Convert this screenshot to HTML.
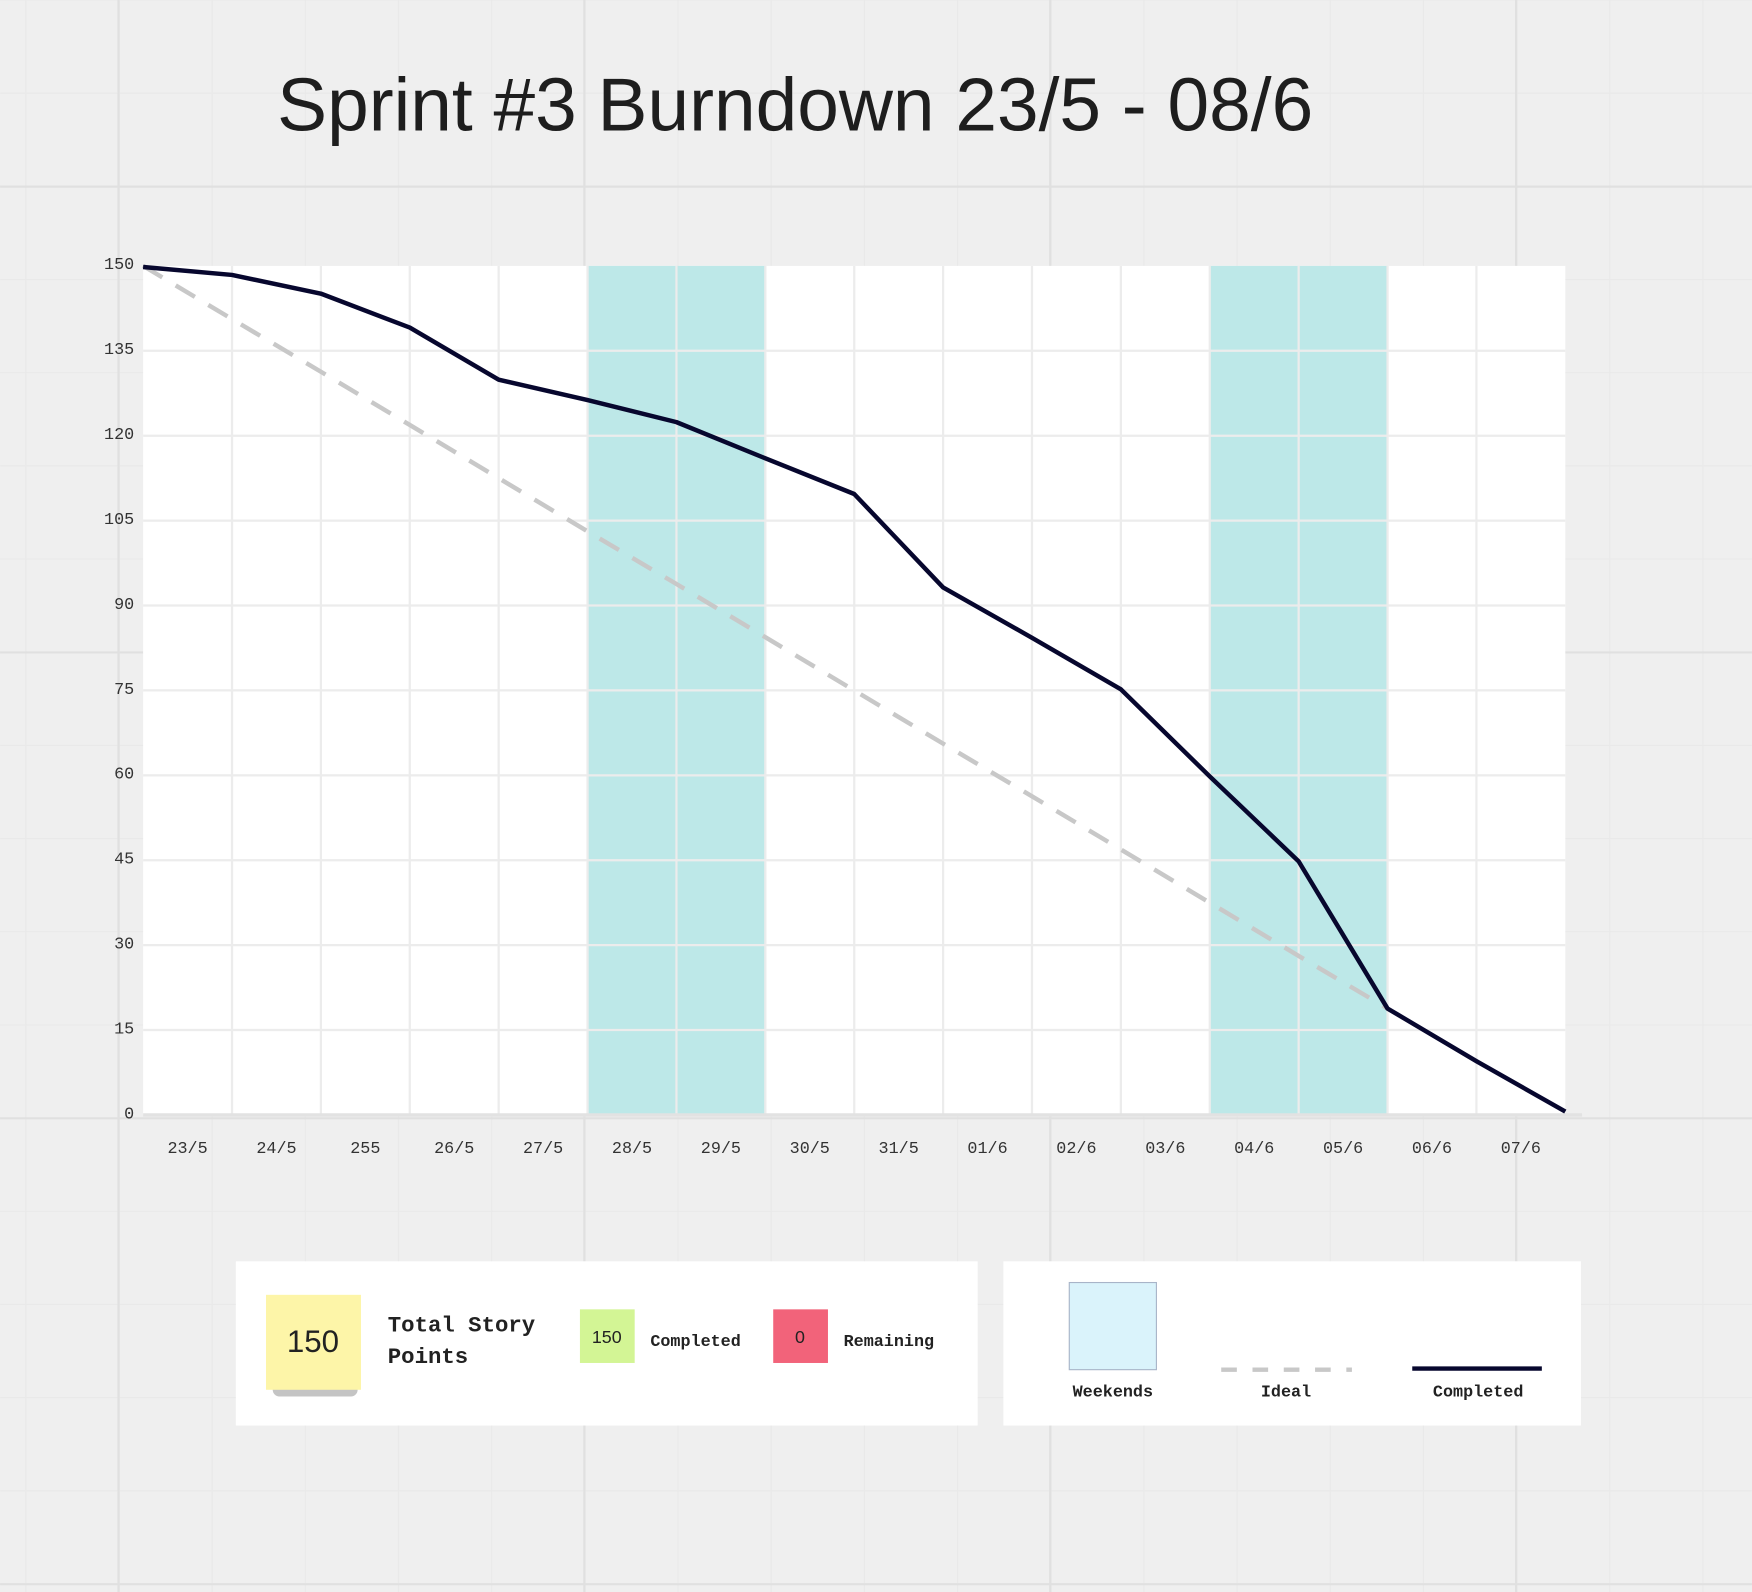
<!DOCTYPE html>
<html><head><meta charset="utf-8"><style>
html,body{margin:0;padding:0;background:#efefef;}
svg{display:block;}
.mono{font-family:"Liberation Mono","DejaVu Sans Mono",monospace;}
</style></head><body>
<svg id="chart" width="1752" height="1592" viewBox="0 0 1568 1425" xmlns="http://www.w3.org/2000/svg">
<rect x="0" y="0" width="1568" height="1425" fill="#efefef"/>
<g id="bggrid"></g>
<text x="248" y="117" font-family="Liberation Sans, sans-serif" font-size="67" fill="#1e1e1e">Sprint #3 Burndown 23/5 - 08/6</text>
<rect x="128" y="238" width="1273" height="760" fill="#ffffff"/>
<g id="weekends"></g>
<g id="grid"></g>
<g id="yaxis"></g>
<g id="xaxis"></g>
<path id="ideal" fill="none" stroke="#c8c8c8" stroke-width="4" stroke-dasharray="20,14"/>
<path id="completed" fill="none" stroke="#07072e" stroke-width="4" stroke-linejoin="round"/>

<g>
<rect x="211" y="1129" width="664" height="147" fill="#fff"/>
<rect x="244" y="1236" width="76" height="14" fill="#555" opacity="0.35" rx="6"/>
<rect x="238" y="1159" width="85" height="85" fill="#fdf5a8"/>
<text x="280" y="1210" text-anchor="middle" font-family="Liberation Sans, sans-serif" font-size="28" fill="#222">150</text>
<text x="347" y="1192" class="mono" font-size="20" font-weight="bold" fill="#222">Total Story</text>
<text x="347" y="1220" class="mono" font-size="20" font-weight="bold" fill="#222">Points</text>
<rect x="519" y="1172" width="49" height="48" fill="#d3f595"/>
<text x="543" y="1202" text-anchor="middle" font-family="Liberation Sans, sans-serif" font-size="16" fill="#222">150</text>
<text x="582" y="1205" class="mono" font-size="15" font-weight="bold" fill="#222">Completed</text>
<rect x="692" y="1172" width="49" height="48" fill="#f2637a"/>
<text x="716" y="1202" text-anchor="middle" font-family="Liberation Sans, sans-serif" font-size="16" fill="#222">0</text>
<text x="755" y="1205" class="mono" font-size="15" font-weight="bold" fill="#222">Remaining</text>
</g>
<g>
<rect x="898" y="1129" width="517" height="147" fill="#fff"/>
<rect x="957" y="1148" width="78" height="78" fill="#daf3fb" stroke="#a8b4c8" stroke-width="1"/>
<line x1="1093" y1="1226" x2="1210" y2="1226" stroke="#c8c8c8" stroke-width="4" stroke-dasharray="14,14"/>
<line x1="1264" y1="1225" x2="1380" y2="1225" stroke="#07072e" stroke-width="4"/>
<text x="996" y="1250" text-anchor="middle" class="mono" font-size="15" font-weight="bold" fill="#222">Weekends</text>
<text x="1151" y="1250" text-anchor="middle" class="mono" font-size="15" font-weight="bold" fill="#222">Ideal</text>
<text x="1323" y="1250" text-anchor="middle" class="mono" font-size="15" font-weight="bold" fill="#222">Completed</text>
</g>
</svg>
<script>
const dayLabels = ["23/5","24/5","255","26/5","27/5","28/5","29/5","30/5","31/5","01/6","02/6","03/6","04/6","05/6","06/6","07/6"];
const yTicks = [0,15,30,45,60,75,90,105,120,135,150];
const completedValues = [149.8,148.4,145.1,139.1,129.9,126.3,122.4,116,109.7,93.2,84.3,75.2,59.8,44.8,18.8,9.5,0.6];
const idealValues = [150,140.6,131.3,121.9,112.5,103.1,93.8,84.4,75,65.6,56.3,46.9,37.5,28.1,18.8];
const weekendStarts = [5,12];
const weekendLengths = [2,2];

const NS="http://www.w3.org/2000/svg";
const X0=128,X1=1401,Y0=998,Y1=238,N=16;
function xs(i){return X0+(X1-X0)*i/N;}
function ys(v){return Y0-(Y0-Y1)*v/150;}
function mk(tag,attrs,parent){const e=document.createElementNS(NS,tag);for(const k in attrs)e.setAttribute(k,attrs[k]);parent.appendChild(e);return e;}

const bg=document.getElementById('bggrid');
for(let x=23;x<1568;x+=83.4){const l=mk('line',{x1:x,y1:0,x2:x,y2:1425,stroke:'#e9e9e9','stroke-width':1},bg);

}
for(let y=0;y<1425;y+=83.4){const l=mk('line',{x1:0,y1:y,x2:1568,y2:y,stroke:'#e9e9e9','stroke-width':1},bg);

}
[106,523,940,1357].forEach(x=>{const l=mk('line',{x1:x,y1:0,x2:x,y2:1425,stroke:'#e0e0e0','stroke-width':2},bg);

});
[167,584,1001,1418].forEach(y=>{const l=mk('line',{x1:0,y1:y,x2:1568,y2:y,stroke:'#e0e0e0','stroke-width':2},bg);

});

const wk=document.getElementById('weekends');
weekendStarts.forEach((s,k)=>{const r=mk('rect',{x:xs(s),y:Y1,width:xs(s+weekendLengths[k])-xs(s),height:Y0-Y1,fill:'#bde8e8'},wk);

});

const g=document.getElementById('grid');
for(let i=1;i<N;i++){const l=mk('line',{x1:xs(i),y1:Y1,x2:xs(i),y2:Y0,stroke:'#ececec','stroke-width':2},g);

}
yTicks.forEach(v=>{if(v===0||v===150)return;const l=mk('line',{x1:X0,y1:ys(v),x2:X1,y2:ys(v),stroke:'#ececec','stroke-width':2},g);

});
const base=mk('line',{x1:X0,y1:Y0,x2:X1+15,y2:Y0,stroke:'#e2e2e2','stroke-width':3},g);



const ya=document.getElementById('yaxis');
yTicks.forEach(v=>{const t=mk('text',{x:120,y:ys(v)+3,'text-anchor':'end','font-size':15,fill:'#333','font-family':'Liberation Mono, monospace'},ya);t.textContent=v;

});
const xa=document.getElementById('xaxis');
dayLabels.forEach((d,i)=>{const t=mk('text',{x:(xs(i)+xs(i+1))/2,y:1032,'text-anchor':'middle','font-size':15,fill:'#333','font-family':'Liberation Mono, monospace'},xa);t.textContent=d;

});

document.getElementById('completed').setAttribute('d',completedValues.map((v,i)=>(i?'L':'M')+xs(i)+','+ys(v)).join(' '));
document.getElementById('ideal').setAttribute('d',idealValues.map((v,i)=>(i?'L':'M')+xs(i)+','+ys(v)).join(' '));
</script>
</body></html>
